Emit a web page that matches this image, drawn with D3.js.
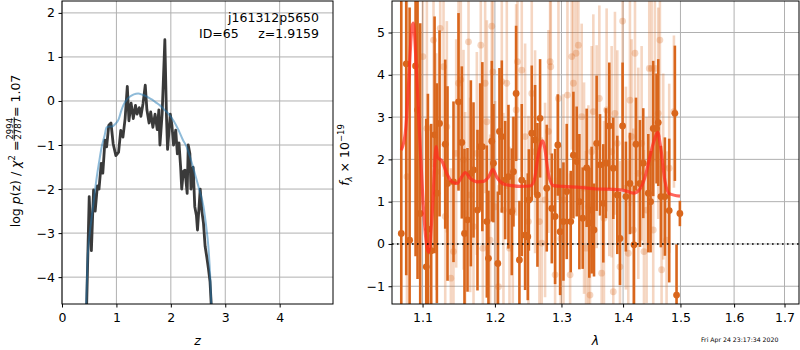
<!DOCTYPE html>
<html>
<head>
<meta charset="utf-8">
<script src="https://cdn.jsdelivr.net/npm/d3@7"></script>
<style>
  body { margin: 0; background: #fff; }
  svg { display: block; font-family: "DejaVu Sans", sans-serif; }
</style>
</head>
<body>
<svg id="chart" width="800" height="350"></svg>
<script>
// ---- data ----
// log p(z) (black, noisy) and fit curve (blue)
const pzCurve = [[0.45,-4.8],[0.50,-2.17],[0.54,-3.4],[0.58,-2.02],[0.61,-2.5],[0.65,-1.93],[0.68,-2.0],[0.72,-1.42],[0.75,-1.64],[0.79,-0.89],[0.82,-1.04],[0.86,-0.55],[0.90,-0.5],[0.94,-0.97],[0.99,-1.24],[1.04,-1.16],[1.08,-0.67],[1.12,-0.82],[1.16,-0.4],[1.20,0.33],[1.23,-0.45],[1.27,-0.05],[1.31,-0.4],[1.35,-0.1],[1.38,-0.3],[1.42,-0.15],[1.45,-0.35],[1.49,-0.05],[1.53,0.36],[1.56,-0.2],[1.60,-0.5],[1.63,-0.25],[1.67,-0.6],[1.71,-0.3],[1.75,-0.65],[1.78,-0.2],[1.80,-1.0],[1.84,-0.3],[1.89,1.39],[1.92,-0.35],[1.94,-1.1],[1.99,-0.3],[2.02,-0.55],[2.05,-1.0],[2.09,-0.66],[2.12,-1.2],[2.15,-0.95],[2.18,-1.5],[2.20,-2.0],[2.23,-1.6],[2.26,-1.57],[2.30,-2.1],[2.32,-1.0],[2.35,-1.2],[2.37,-2.0],[2.41,-1.5],[2.44,-2.4],[2.47,-2.6],[2.49,-2.93],[2.54,-2.0],[2.57,-2.5],[2.60,-2.78],[2.63,-3.3],[2.66,-3.54],[2.69,-3.8],[2.72,-4.1],[2.75,-4.8]];
const pzFit = [[0.44,-4.8],[0.47,-3.6],[0.51,-3.0],[0.55,-2.6],[0.60,-2.1],[0.64,-1.72],[0.68,-1.4],[0.73,-1.04],[0.78,-0.8],[0.82,-0.6],[0.87,-0.58],[0.92,-0.58],[0.98,-0.52],[1.04,-0.42],[1.09,-0.22],[1.13,-0.09],[1.19,0.03],[1.25,0.1],[1.32,0.15],[1.40,0.17],[1.48,0.14],[1.56,0.1],[1.64,0.04],[1.71,-0.02],[1.80,-0.1],[1.88,-0.2],[1.95,-0.28],[2.05,-0.45],[2.14,-0.66],[2.22,-0.88],[2.29,-1.04],[2.36,-1.3],[2.44,-1.64],[2.52,-2.0],[2.60,-2.4],[2.65,-2.85],[2.69,-3.31],[2.72,-3.9],[2.75,-4.8]];

// spectrum: [wavelength (um), flux, error]
const specLight = [[1.0795,1.59,4.5],[1.1004,4.43,3.5],[1.1057,2.73,3.2],[1.1084,-0.18,3.0],[1.1146,4.82,3.0],[1.1182,1.71,2.8],[1.1236,5.1,2.8],[1.1281,4.19,2.6],[1.1304,0.65,2.7],[1.1326,2.77,2.5],[1.1381,-0.81,2.6],[1.1417,-0.18,2.4],[1.1454,2.14,2.7],[1.1486,3.8,2.5],[1.1518,3.88,2.3],[1.1555,1.99,2.6],[1.1578,0.72,2.4],[1.1625,4.78,2.5],[1.1648,1.16,2.3],[1.1695,0.41,2.6],[1.1742,2.14,2.4],[1.1798,4.7,2.5],[1.1827,-0.1,2.3],[1.1860,3.8,2.6],[1.1884,2.89,2.4],[1.1931,0.09,2.5],[1.1955,5.15,2.7],[1.1970,4.07,2.3],[1.2003,0.88,2.5],[1.2052,-1.01,2.4],[1.2100,3.84,2.6],[1.2124,0.8,2.3],[1.2173,3.8,2.5],[1.2212,-0.1,2.4],[1.2261,0.8,2.2],[1.2310,3.17,2.5],[1.2330,4.31,2.3],[1.2394,4.11,2.4],[1.2444,2.54,2.2],[1.2494,0.53,2.5],[1.2544,3.56,2.3],[1.2594,2.18,2.4],[1.2660,0.53,2.2],[1.2695,0.02,2.5],[1.2746,1.04,2.3],[1.2798,2.66,2.4],[1.2824,4.31,2.2],[1.2834,4.19,2.5],[1.2901,-0.73,2.3],[1.2953,3.44,2.4],[1.2989,0.13,2.2],[1.3031,1.04,2.5],[1.3094,3.52,2.3],[1.3136,-0.73,2.4],[1.3162,4.43,2.2],[1.3188,3.8,2.5],[1.3230,4.51,2.3],[1.3267,4.7,2.4],[1.3320,3.01,2.2],[1.3358,1.32,2.5],[1.3390,-0.1,2.3],[1.3427,0.88,2.4],[1.3454,-1.21,2.2],[1.3481,2.18,2.5],[1.3508,3.13,2.3],[1.3562,2.3,2.4],[1.3606,3.44,2.2],[1.3644,-0.69,2.5],[1.3682,0.61,2.3],[1.3726,3.17,2.4],[1.3770,1.91,2.2],[1.3809,2.18,2.5],[1.3836,-1.13,2.3],[1.3864,3.09,2.4],[1.3903,2.38,2.2],[1.3948,-0.54,2.5],[1.3992,5.27,2.3],[1.4048,1.32,2.4],[1.4088,-0.22,2.2],[1.4116,3.4,2.5],[1.4144,2.54,2.3],[1.4173,0.33,2.4],[1.4202,4.51,2.2],[1.4259,1.67,2.5],[1.4316,2.38,2.3],[1.4356,-0.18,2.4],[1.4402,0.8,2.2],[1.4448,4.15,2.5],[1.4489,4.15,2.3],[1.4517,0.33,2.4],[1.4546,4.15,2.2],[1.4605,3.09,2.5],[1.4634,4.82,2.3],[1.4664,-0.61,2.4],[1.4693,1.83,2.2],[1.4752,0.09,2.1],[1.4799,1.79,2.0],[1.4883,3.13,1.8]];
const specDark = [[1.0722,0.25,6],[1.0786,4.26,5],[1.0830,0.09,5.5],[1.0908,4.21,4.5],[1.0934,3.17,4],[1.0969,0.72,4.5],[1.1049,-0.54,3.5],[1.1071,0.35,3.2],[1.1115,-0.16,3.0],[1.1160,2.58,2.8],[1.1191,1.2,2.6],[1.1227,2.85,2.2],[1.1304,2.36,2.0],[1.1335,1.43,2.3],[1.1417,1.47,1.9],[1.1486,3.36,2.1],[1.1532,2.4,1.8],[1.1569,0.25,2.0],[1.1611,0.57,1.7],[1.1658,1.67,2.2],[1.1695,1.75,1.6],[1.1751,0.8,1.9],[1.1789,2.3,1.5],[1.1820,2.3,2.0],[1.1884,0.53,1.8],[1.1907,-0.34,1.6],[1.1955,2.43,1.9],[1.1979,1.91,1.4],[1.2042,-0.46,1.7],[1.2066,2.66,1.5],[1.2100,2.54,1.8],[1.2149,1.51,1.4],[1.2197,1.59,1.7],[1.2246,0.76,1.5],[1.2271,1.71,1.3],[1.2310,3.56,1.6],[1.2359,-0.38,1.4],[1.2394,1.51,1.8],[1.2444,0.21,1.3],[1.2484,0.17,1.5],[1.2500,1.04,1.2],[1.2544,2.62,1.6],[1.2594,2.46,1.3],[1.2630,1.16,1.7],[1.2670,2.97,1.4],[1.2772,1.32,1.5],[1.2850,0.84,1.3],[1.2901,0.65,1.6],[1.2943,2.34,1.2],[1.2979,0.29,1.5],[1.3031,0.53,1.4],[1.3083,1.24,1.6],[1.3146,0.53,1.2],[1.3188,2.1,1.5],[1.3241,1.95,1.3],[1.3283,1.0,1.6],[1.3336,0.61,1.2],[1.3400,1.8,1.4],[1.3443,0.5,1.3],[1.3481,0.8,1.5],[1.3519,0.33,1.1],[1.3562,2.38,1.6],[1.3617,1.87,1.2],[1.3671,0.96,1.4],[1.3715,1.91,1.3],[1.3770,2.79,1.5],[1.3836,1.79,1.2],[1.3903,1.16,1.4],[1.3948,0.13,1.1],[1.3992,2.79,1.5],[1.4048,1.12,1.3],[1.4116,1.43,1.2],[1.4185,-0.02,1.4],[1.4219,2.36,1.1],[1.4287,1.43,1.5],[1.4344,1.91,1.3],[1.4431,1.2,1.4],[1.4471,1.0,1.2],[1.4517,2.73,1.6],[1.4575,2.73,1.3],[1.4605,2.87,1.5],[1.4651,1.12,1.2],[1.4722,1.12,1.4],[1.4799,0.79,1.7],[1.4900,3.09,1.6],[1.4930,-1.21,1.2],[1.4990,0.72,0.3]];
// red template model
const specModel = [[1.0722,2.22],[1.0774,2.62],[1.0817,3.8],[1.0861,5.14],[1.0880,5.22],[1.0917,4.19],[1.0960,2.62],[1.1005,1.04],[1.1050,0.03],[1.1080,-0.2],[1.1125,0.64],[1.1183,2.3],[1.1200,2.05],[1.1260,1.96],[1.1327,1.66],[1.1395,1.47],[1.1464,1.43],[1.1532,1.59],[1.1579,1.69],[1.1649,1.55],[1.1742,1.47],[1.1836,1.48],[1.1908,1.58],[1.1971,1.76],[1.2028,1.58],[1.2124,1.42],[1.2247,1.38],[1.2370,1.36],[1.2520,1.37],[1.2580,1.5],[1.2645,2.13],[1.2711,2.44],[1.2740,2.28],[1.2797,1.66],[1.2874,1.38],[1.3030,1.36],[1.3294,1.34],[1.3562,1.3],[1.3836,1.29],[1.4033,1.26],[1.4174,1.2],[1.4288,1.3],[1.4374,1.58],[1.4449,2.0],[1.4531,2.44],[1.4595,2.64],[1.4648,2.28],[1.4723,1.49],[1.4800,1.19],[1.4992,1.13]];

// ticks
const zTicks = [0, 1, 2, 3, 4];
const logpTicks = [-4, -3, -2, -1, 0, 1, 2];
const waveTicks = [1.1, 1.2, 1.3, 1.4, 1.5, 1.6, 1.7];
const fluxTicks = [-1, 0, 1, 2, 3, 4, 5];

const objName = "j161312p5650";
const objId = "ID=65";
const objZ = "z=1.9159";
const stamp = "Fri Apr 24 23:17:34 2020";

// ---- layout ----
const svg = d3.select("#chart");
const FONT = 12.5;
const gridColor = "#b0b0b0";
const darkOrange = "#d9661c";

const leftBox = { l: 62, r: 333, t: 1, b: 304 };
const rightBox = { l: 392, r: 799, t: 1, b: 304 };

const zScale = d3.scaleLinear().domain([0, 4.98]).range([leftBox.l, leftBox.r]);
const lpScale = d3.scaleLinear().domain([-4.61, 2.27]).range([leftBox.b, leftBox.t]);
const wScale = d3.scaleLog().domain([1.0603, 1.7299]).range([rightBox.l, rightBox.r]);
const fScale = d3.scaleLinear().domain([-1.42, 5.745]).range([rightBox.b, rightBox.t]);

function makePanel(box, xs, ys, xTicks, yTicks, xFmt, id) {
    const g = svg.append("g");
    // grid
    g.selectAll("line.gx").data(xTicks).enter().append("line")
        .attr("x1", d => xs(d)).attr("x2", d => xs(d))
        .attr("y1", box.t).attr("y2", box.b)
        .attr("stroke", gridColor).attr("stroke-width", 1);
    g.selectAll("line.gy").data(yTicks).enter().append("line")
        .attr("x1", box.l).attr("x2", box.r)
        .attr("y1", d => ys(d)).attr("y2", d => ys(d))
        .attr("stroke", gridColor).attr("stroke-width", 1);

    svg.append("clipPath").attr("id", id)
        .append("rect").attr("x", box.l).attr("y", box.t)
        .attr("width", box.r - box.l).attr("height", box.b - box.t);

    const data = svg.append("g").attr("clip-path", `url(#${id})`);

    const ax = svg.append("g").attr("transform", `translate(0,${box.b})`)
        .call(d3.axisBottom(xs).tickValues(xTicks).tickFormat(xFmt).tickSize(3.5).tickPadding(3.5));
    const ay = svg.append("g").attr("transform", `translate(${box.l},0)`)
        .call(d3.axisLeft(ys).tickValues(yTicks).tickFormat(d3.format("d")).tickSize(3.5).tickPadding(3.5));
    [ax, ay].forEach(a => {
        a.select(".domain").remove();
        a.attr("font-family", null).attr("font-size", FONT);
        a.selectAll("text").attr("fill", "#000");
    });
    ax.selectAll("text").attr("dy", "0.85em");

    return data;
}

// ---- left panel: p(z) ----
const leftData = makePanel(leftBox, zScale, lpScale, zTicks, logpTicks, d3.format("d"), "clipL");

const lpLine = d3.line().x(d => zScale(d[0])).y(d => lpScale(d[1]));
leftData.append("path").datum(pzCurve)
    .attr("d", lpLine)
    .attr("fill", "none").attr("stroke", "#3a3a3a")
    .attr("stroke-width", 2.8).attr("stroke-linejoin", "round");
leftData.append("path").datum(pzFit)
    .attr("d", lpLine.curve(d3.curveMonotoneX))
    .attr("fill", "none").attr("stroke", "#1f77b4").attr("stroke-opacity", 0.5)
    .attr("stroke-width", 2);

svg.append("text").attr("x", 319).attr("y", 22).attr("text-anchor", "end")
    .attr("font-size", FONT).text(objName);
svg.append("text").attr("x", 199).attr("y", 38)
    .attr("font-size", FONT).text(objId);
svg.append("text").attr("x", 319).attr("y", 38).attr("text-anchor", "end")
    .attr("font-size", FONT).text(objZ);

// ---- right panel: spectrum ----
const rightData = makePanel(rightBox, wScale, fScale, waveTicks, fluxTicks, d3.format(".1f"), "clipR");

function errorbars(g, rows, color, opacity, width) {
    g.append("g").selectAll("line").data(rows).enter().append("line")
        .attr("x1", d => wScale(d[0])).attr("x2", d => wScale(d[0]))
        .attr("y1", d => fScale(d[1] - d[2])).attr("y2", d => fScale(d[1] + d[2]))
        .attr("stroke", color).attr("stroke-opacity", opacity).attr("stroke-width", width);
    g.append("g").selectAll("circle").data(rows).enter().append("circle")
        .attr("cx", d => wScale(d[0])).attr("cy", d => fScale(d[1]))
        .attr("r", 3.4).attr("fill", color).attr("fill-opacity", opacity);
}
errorbars(rightData, specLight, darkOrange, 0.27, 2.6);
errorbars(rightData, specDark, darkOrange, 1, 2.6);

rightData.append("path").datum(specModel)
    .attr("d", d3.line().x(d => wScale(d[0])).y(d => fScale(d[1])).curve(d3.curveMonotoneX))
    .attr("fill", "none").attr("stroke", "#ff2a1f").attr("stroke-opacity", 0.72)
    .attr("stroke-width", 3.2).attr("stroke-linejoin", "round");

svg.append("line")
    .attr("x1", rightBox.l).attr("x2", rightBox.r)
    .attr("y1", fScale(0)).attr("y2", fScale(0))
    .attr("stroke", "#000").attr("stroke-width", 1.6)
    .attr("stroke-dasharray", "1.6,3.4");

// frames
[leftBox, rightBox].forEach(b => {
    svg.append("rect").attr("x", b.l).attr("y", b.t)
        .attr("width", b.r - b.l).attr("height", b.b - b.t)
        .attr("fill", "none").attr("stroke", "#000").attr("stroke-width", 1);
});

// ---- axis labels ----
svg.append("text").attr("x", (leftBox.l + leftBox.r) / 2).attr("y", 345)
    .attr("text-anchor", "middle").attr("font-size", FONT).attr("font-style", "italic").text("z");
svg.append("text").attr("x", (rightBox.l + rightBox.r) / 2).attr("y", 345)
    .attr("text-anchor", "middle").attr("font-size", FONT).attr("font-style", "italic").text("λ");

// left y label with a stacked fraction
const yl = svg.append("g").attr("transform", "translate(20,151) rotate(-90)");
const ylIn = yl.append("g");
const part1 = ylIn.append("text").attr("font-size", FONT);
part1.append("tspan").text("log ");
part1.append("tspan").attr("font-style", "italic").text("p");
part1.append("tspan").text("(z) / ");
part1.append("tspan").attr("font-style", "italic").text("χ");
part1.append("tspan").attr("font-size", 8.5).attr("dy", -5).text("2");
part1.append("tspan").attr("dy", 5).text(" = ");
const w1 = part1.node().getComputedTextLength();
const num = ylIn.append("text").attr("font-size", 8.5).attr("text-anchor", "middle").attr("y", -7.5).text("2994");
const den = ylIn.append("text").attr("font-size", 8.5).attr("text-anchor", "middle").attr("y", 1).text("2787");
const fw = Math.max(num.node().getComputedTextLength(), den.node().getComputedTextLength()) + 2;
num.attr("x", w1 + fw / 2);
den.attr("x", w1 + fw / 2);
ylIn.append("line").attr("x1", w1).attr("x2", w1 + fw)
    .attr("y1", -5.8).attr("y2", -5.8).attr("stroke", "#000").attr("stroke-width", 0.8);
const part3 = ylIn.append("text").attr("font-size", FONT).attr("x", w1 + fw).text(" = 1.07");
const total = w1 + fw + part3.node().getComputedTextLength();
ylIn.attr("transform", `translate(${-total / 2},0)`);

// right y label
const yr = svg.append("text").attr("transform", "translate(349,155) rotate(-90)")
    .attr("text-anchor", "middle").attr("font-size", FONT);
yr.append("tspan").attr("font-style", "italic").text("f");
yr.append("tspan").attr("font-style", "italic").attr("font-size", 8.5).attr("dy", 3).text("λ");
yr.append("tspan").attr("dy", -3).text(" × 10");
yr.append("tspan").attr("font-size", 8.5).attr("dy", -5).text("−19");

// timestamp
svg.append("text").attr("x", 701).attr("y", 342).attr("font-size", 6.2).text(stamp);
</script>
</body>
</html>
